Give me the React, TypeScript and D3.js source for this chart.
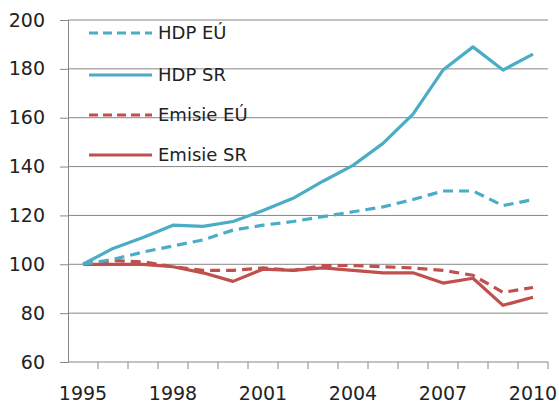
import React, { useEffect, useRef } from 'react';
import * as d3 from 'd3';

const years = [1995, 1996, 1997, 1998, 1999, 2000, 2001, 2002, 2003, 2004, 2005, 2006, 2007, 2008, 2009, 2010];
const hdpEU = [100, 102, 105, 107.5, 110, 114, 116, 117.5, 119.5, 121.5, 123.5, 126.5, 130, 130, 124, 126.5];
const hdpSR = [100, 106.5, 111, 116, 115.5, 117.5, 122, 127, 134, 140.5, 149.5, 161.5, 179.5, 189, 179.5, 186];
const emEU = [100, 101.5, 101, 99, 97.5, 97.5, 98.5, 97.5, 99.5, 99.5, 99, 98.5, 97.5, 95.5, 88.5, 90.5];
const emSR = [100, 100, 100, 99, 96.5, 93, 98, 97.5, 98.5, 97.5, 96.5, 96.5, 92.3, 94.3, 83.2, 86.5];
const yTicks = [60, 80, 100, 120, 140, 160, 180, 200];
const xLabels = [1995, 1998, 2001, 2004, 2007, 2010];

const series = [
  { name: 'HDP EÚ', values: hdpEU, color: '#4bacc6', dashed: true },
  { name: 'HDP SR', values: hdpSR, color: '#4bacc6', dashed: false },
  { name: 'Emisie EÚ', values: emEU, color: '#c0504d', dashed: true },
  { name: 'Emisie SR', values: emSR, color: '#c0504d', dashed: false },
];

const App = () => {
  const ref = useRef<SVGSVGElement>(null);

  useEffect(() => {
    const svg = d3.select(ref.current);
    svg.selectAll('*').remove();

    const left = 68, right = 548, top = 20, bottom = 362;
    const font = 'DejaVu Sans, sans-serif';
    const grey = '#878787';

    const x = d3.scaleBand<number>().domain(years).range([left, right]);
    const y = d3.scaleLinear().domain([60, 200]).range([bottom, top]);

    // gridlines
    svg.append('g')
      .selectAll('line')
      .data(yTicks.slice(1))
      .enter()
      .append('line')
      .attr('x1', left)
      .attr('x2', right)
      .attr('y1', (d) => y(d))
      .attr('y2', (d) => y(d))
      .attr('stroke', grey)
      .attr('stroke-width', 1);

    // y axis
    const yAxis = svg.append('g')
      .attr('transform', `translate(${left},0)`)
      .call(d3.axisLeft(y).tickValues(yTicks).tickSize(8).tickPadding(15));
    yAxis.select('.domain').attr('stroke', grey);
    yAxis.selectAll('.tick line').attr('stroke', grey);
    yAxis.selectAll('text')
      .attr('font-family', font)
      .attr('font-size', 19)
      .attr('fill', '#222');

    // x axis: ticks between categories
    const xAxis = svg.append('g').attr('transform', `translate(0,${bottom})`);
    xAxis.append('line').attr('x1', left).attr('x2', right).attr('stroke', grey);
    xAxis.selectAll('.tk')
      .data(years)
      .enter()
      .append('line')
      .attr('class', 'tk')
      .attr('x1', (d) => (x(d) as number) + x.bandwidth())
      .attr('x2', (d) => (x(d) as number) + x.bandwidth())
      .attr('y1', 0)
      .attr('y2', 7)
      .attr('stroke', grey);
    xAxis.selectAll('text')
      .data(xLabels)
      .enter()
      .append('text')
      .attr('x', (d) => (x(d) as number) + x.bandwidth() / 2)
      .attr('y', 38)
      .attr('text-anchor', 'middle')
      .attr('font-family', font)
      .attr('font-size', 19)
      .attr('fill', '#222')
      .text((d) => d);

    const line = d3.line<number>()
      .x((_, i) => (x(years[i]) as number) + x.bandwidth() / 2)
      .y((d) => y(d));

    // draw red series first, blue on top
    [series[2], series[3], series[0], series[1]].forEach((s) => {
      svg.append('path')
        .datum(s.values)
        .attr('d', line)
        .attr('fill', 'none')
        .attr('stroke', s.color)
        .attr('stroke-width', 3.2)
        .attr('stroke-linejoin', 'round')
        .attr('stroke-dasharray', s.dashed ? '10,6' : null);
    });

    // legend
    const legendY = [33, 75, 115, 155];
    const lg = svg.append('g');
    series.forEach((s, i) => {
      lg.append('line')
        .attr('x1', 89)
        .attr('x2', 152)
        .attr('y1', legendY[i])
        .attr('y2', legendY[i])
        .attr('stroke', s.color)
        .attr('stroke-width', 3.2)
        .attr('stroke-dasharray', s.dashed ? '9,5' : null);
      lg.append('text')
        .attr('x', 158)
        .attr('y', legendY[i])
        .attr('dy', '0.36em')
        .attr('font-family', font)
        .attr('font-size', 18)
        .attr('fill', '#222')
        .text(s.name);
    });
  }, []);

  return (
    <svg
      ref={ref}
      width={559}
      height={403}
      style={{ position: 'absolute', left: 0, top: 0, background: '#fff' }}
    />
  );
};

export default App;
